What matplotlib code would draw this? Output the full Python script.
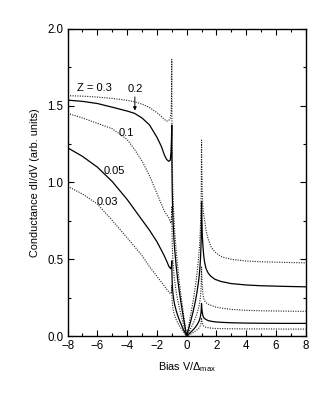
import matplotlib
matplotlib.use('Agg')
import matplotlib.pyplot as plt
from matplotlib.ticker import MultipleLocator, FormatStrFormatter

plt.rcParams['font.family'] = ['Liberation Sans', 'DejaVu Sans']
plt.rcParams['mathtext.fontset'] = 'custom'
plt.rcParams['mathtext.rm'] = 'Liberation Sans'
plt.rcParams['mathtext.it'] = 'Liberation Sans'

# bias grid shared by all curves (V / Delta_max)
bias = [-8, -7, -6, -5, -4, -3.5, -3, -2.5, -2, -1.7, -1.5, -1.35, -1.2, -1.1, -1.05, -1.02, -1.0,
        -0.99, -0.97, -0.94, -0.9, -0.85, -0.8, -0.7, -0.6, -0.5, -0.4, -0.3, -0.2, -0.1, 0,
        0.1, 0.2, 0.3, 0.4, 0.5, 0.6, 0.7, 0.8, 0.85, 0.9, 0.94, 0.97, 0.99,
        1.0, 1.02, 1.05, 1.1, 1.15, 1.2, 1.3, 1.45, 1.65, 1.9, 2.3, 3, 4, 5, 6.5, 8]

g_z030 = [1.565, 1.562, 1.556, 1.547, 1.535, 1.525, 1.51, 1.488, 1.455, 1.43, 1.41, 1.40, 1.403, 1.42, 1.45, 1.53, 1.80,
          1.41, 1.16, 1.0, 0.875, 0.761, 0.68, 0.551, 0.448, 0.36, 0.28, 0.206, 0.135, 0.067, 0.0,
          0.05, 0.101, 0.154, 0.209, 0.268, 0.334, 0.411, 0.508, 0.568, 0.653, 0.748, 0.865, 1.05,
          1.276, 1.1, 0.92, 0.83, 0.79, 0.76, 0.69, 0.63, 0.58, 0.548, 0.518, 0.5, 0.489, 0.484, 0.48, 0.477]

g_z020 = [1.536, 1.528, 1.514, 1.49, 1.465, 1.45, 1.42, 1.375, 1.295, 1.235, 1.18, 1.15, 1.138, 1.145, 1.2, 1.28, 1.374,
          1.12, 0.95, 0.823, 0.72, 0.625, 0.56, 0.452, 0.368, 0.295, 0.23, 0.169, 0.111, 0.055, 0.0,
          0.035, 0.071, 0.107, 0.146, 0.188, 0.234, 0.288, 0.356, 0.398, 0.457, 0.524, 0.605, 0.74,
          0.874, 0.78, 0.66, 0.58, 0.52, 0.485, 0.44, 0.41, 0.388, 0.37, 0.356, 0.342, 0.333, 0.328, 0.324, 0.321]

g_z010 = [1.45, 1.42, 1.385, 1.35, 1.28, 1.215, 1.14, 1.045, 0.93, 0.86, 0.815, 0.79, 0.77, 0.745, 0.735, 0.77, 0.84,
          0.74, 0.605, 0.524, 0.457, 0.398, 0.356, 0.288, 0.234, 0.188, 0.146, 0.107, 0.071, 0.035, 0.0,
          0.018, 0.036, 0.055, 0.075, 0.097, 0.12, 0.148, 0.183, 0.204, 0.235, 0.269, 0.311, 0.38,
          0.45, 0.39, 0.33, 0.27, 0.245, 0.232, 0.218, 0.208, 0.2, 0.191, 0.183, 0.174, 0.168, 0.165, 0.163, 0.161]

g_z005 = [1.226, 1.17, 1.10, 1.006, 0.89, 0.823, 0.756, 0.69, 0.615, 0.56, 0.522, 0.49, 0.455, 0.442, 0.44, 0.455, 0.49,
          0.42, 0.346, 0.3, 0.261, 0.227, 0.203, 0.165, 0.134, 0.107, 0.084, 0.061, 0.04, 0.02, 0.0,
          0.009, 0.018, 0.028, 0.038, 0.048, 0.06, 0.074, 0.091, 0.102, 0.118, 0.135, 0.156, 0.19,
          0.213, 0.18, 0.155, 0.13, 0.12, 0.115, 0.108, 0.101, 0.097, 0.093, 0.09, 0.087, 0.085, 0.084, 0.083, 0.083]

g_z003 = [0.975, 0.925, 0.86, 0.753, 0.64, 0.583, 0.525, 0.452, 0.39, 0.352, 0.326, 0.307, 0.288, 0.278, 0.278, 0.29, 0.33,
          0.27, 0.225, 0.195, 0.17, 0.148, 0.132, 0.107, 0.087, 0.07, 0.054, 0.04, 0.026, 0.013, 0.0,
          0.005, 0.01, 0.015, 0.021, 0.027, 0.033, 0.041, 0.05, 0.057, 0.065, 0.075, 0.087, 0.105,
          0.12, 0.1, 0.085, 0.072, 0.066, 0.062, 0.058, 0.055, 0.052, 0.05, 0.049, 0.048, 0.047, 0.047, 0.046, 0.046]

curves = [(g_z030, 'dot'), (g_z020, 'solid'), (g_z010, 'dot'), (g_z005, 'solid'), (g_z003, 'dot')]

fig = plt.figure(figsize=(3.33, 3.95), dpi=100)
ax = fig.add_axes([0.203, 0.149, 0.715, 0.778])

for g, style in curves:
    if style == 'solid':
        ax.plot(bias, g, color='black', lw=0.9)
    else:
        ax.plot(bias, g, color='#222222', lw=0.8, linestyle=(0, (1, 1.2)))

ax.set_xlim(-8, 8)
ax.set_ylim(0, 2.0)
ax.xaxis.set_major_locator(MultipleLocator(2))
ax.xaxis.set_minor_locator(MultipleLocator(1))
ax.yaxis.set_major_locator(MultipleLocator(0.5))
ax.yaxis.set_minor_locator(MultipleLocator(0.25))
ax.yaxis.set_major_formatter(FormatStrFormatter('%.1f'))
ax.tick_params(which='both', direction='in', top=True, right=True, width=0.8, labelsize=8.3, pad=3)
ax.tick_params(which='major', length=4)
ax.tick_params(which='minor', length=2.5)
for s in ax.spines.values():
    s.set_linewidth(1.0)

ax.set_xlabel(r'Bias V/$\Delta_{\rm max}$', fontsize=7.8, labelpad=6)
ax.set_ylabel('Conductance dI/dV (arb. units)', fontsize=7.8, labelpad=5)

ax.text(-6.23, 1.612, 'Z = 0.3', ha='center', va='center', fontsize=8)
ax.text(-3.44, 1.606, '0.2', ha='center', va='center', fontsize=8)
ax.annotate('', xy=(-3.48, 1.45), xytext=(-3.48, 1.575),
            arrowprops=dict(arrowstyle='-|>', color='black', lw=0.7, mutation_scale=5))
ax.text(-4.08, 1.32, '0.1', ha='center', va='center', fontsize=8)
ax.text(-4.89, 1.074, '0.05', ha='center', va='center', fontsize=8)
ax.text(-5.32, 0.87, '0.03', ha='center', va='center', fontsize=8)

fig.savefig('out.png', dpi=100)
